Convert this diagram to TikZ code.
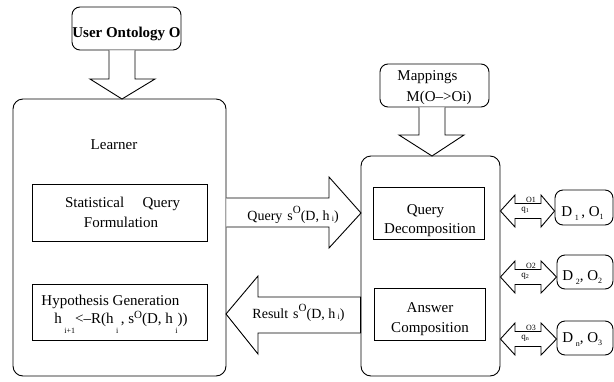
\documentclass[tikz,border=0pt]{standalone}
\usepackage{fontspec}
\setmainfont{Liberation Serif}
\usetikzlibrary{calc}
\newcommand\myfs[1]{\fontsize{#1}{#1}\selectfont}
\newcommand\rsub[2]{\raisebox{#1}{\fontsize{8}{8}\selectfont #2}}
\newcommand\rsup[2]{\raisebox{#1}{\fontsize{11}{11}\selectfont #2}}
\begin{document}
\begin{tikzpicture}[x=1pt,y=-1pt, line width=0.9pt, line join=miter,
  rbox/.style={draw, rounded corners=8pt, inner sep=0pt},
  pbox/.style={draw, inner sep=0pt},
  blk/.style={draw, fill=white, line join=miter},
  lbl/.style={inner sep=0pt, anchor=base west, font=\myfs{15}},
  tiny/.style={inner sep=0pt, anchor=base, font=\myfs{8}}]
\useasboundingbox (0,0) rectangle (614,381);

% user ontology
\node[rbox, minimum width=109pt, minimum height=43pt] (uo) at (126.5,28.5) {};
\node[lbl, anchor=base, font=\bfseries\myfs{15}] (uot) at (126.5,37) {User Ontology O};

% learner
\node[rbox, rounded corners=10pt, minimum width=213pt, minimum height=277pt] (lrn) at (119.5,237.5) {};
\node[lbl, anchor=base] (lrnt) at (114,149) {Learner};

\node[pbox, minimum width=175pt, minimum height=57pt] (sqf) at (119.5,212.5) {};
\node[lbl, anchor=base] (sqf1) at (122.5,207) {\makebox[115pt][s]{Statistical Query}};
\node[lbl, anchor=base] (sqf2) at (121,227) {Formulation};

\node[pbox, minimum width=175pt, minimum height=56pt] (hyp) at (119.5,312) {};
\node[lbl] (hyp1) at (41,305) {Hypothesis Generation};
\node[lbl] (hyp2) at (54,323) {h\,\rsub{-10pt}{i+1}<--R(h\,\rsub{-10pt}{i}\,, s\rsup{5pt}{O}(D, h\,\rsub{-10pt}{i}))};

% arrow user ontology -> learner
\coordinate (a1) at (122,99);
\draw[blk] (uo.south -| 109,0) -- (109,79) -- (90,79) -- (a1) -- (155,79) -- (135,79) -- (uo.south -| 135,0);

% right box
\node[rbox, rounded corners=10pt, minimum width=139pt, minimum height=220pt] (rb) at (430.5,266) {};
\node[rbox, minimum width=109pt, minimum height=43pt] (map) at (434.5,85.5) {};
\node[lbl] (map1) at (397,80) {Mappings};
\node[lbl] (map2) at (406,101) {M(O-->Oi)};
\coordinate (a2) at (432,156);
\draw[blk] (map.south -| 419,0) -- (419,135) -- (399,135) -- (a2) -- (464,135) -- (445,135) -- (map.south -| 445,0);

\node[pbox, minimum width=111pt, minimum height=52pt] (qd) at (428.5,213) {};
\node[lbl, anchor=base] (qd1) at (425.5,214) {Query};
\node[lbl, anchor=base] (qd2) at (430,233) {Decomposition};
\node[pbox, minimum width=111pt, minimum height=52pt] (ac) at (429.5,314) {};
\node[lbl, anchor=base] (ac1) at (430,312) {Answer};
\node[lbl, anchor=base] (ac2) at (430,332) {Composition};

% query arrow
\coordinate (qtip) at (361,213);
\draw[blk] (lrn.east |- 0,198) -- (329,198) -- (329,177) -- (qtip) -- (329,248) -- (329,227) -- (lrn.east |- 0,227);
\node[lbl, font=\myfs{14}] (ql) at (247,220) {Query\hspace{5pt}s\rsup{7pt}{O}(D, h\,\rsub{-1pt}{i})};

% result arrow
\coordinate (rtip) at (226,314);
\draw[blk] (rb.west |- 0,297) -- (258,297) -- (258,276) -- (rtip) -- (258,354) -- (258,333) -- (rb.west |- 0,333) -- cycle;
\node[lbl, font=\myfs{14}] (rl) at (252,318) {Result\hspace{5pt}s\rsup{7pt}{O}(D, h\,\rsub{-1pt}{i})};

% data sources
\node[rbox, minimum width=58pt, minimum height=35pt] (d1) at (584,207.5) {};
\node[lbl] (d1t) at (561,216) {D\,\rsub{-4pt}{1}\,, O\rsub{-3pt}{1}};
\node[rbox, minimum width=56pt, minimum height=34pt] (d2) at (585,272) {};
\node[lbl] (d2t) at (562,280) {D\,\rsub{-4pt}{2}, O\rsub{-3pt}{2}};
\node[rbox, minimum width=56pt, minimum height=34pt] (d3) at (585,338) {};
\node[lbl] (d3t) at (562,342) {D\,\rsub{-4pt}{n}, O\rsub{-3pt}{3}};

\foreach \c/\o/\q/\d [count=\k] in {211/O1/1/d1, 277/O2/2/d2, 339/O3/n/d3}{
  \draw[blk] (rb.east |- 0,\c) -- (515,\c-16) -- (515,\c-7.5) -- (541,\c-7.5) -- (541,\c-16)
    -- (\d.west |- 0,\c) -- (541,\c+16) -- (541,\c+7.5) -- (515,\c+7.5) -- (515,\c+16) -- cycle;
  \node[tiny] (o\k) at (531,\c-8.5) {\o};
  \node[tiny, font=\myfs{9}] (q\k) at (525,\c) {q\rsub{-1pt}{\fontsize{6}{6}\selectfont\q}};
}
\end{tikzpicture}
\end{document}
